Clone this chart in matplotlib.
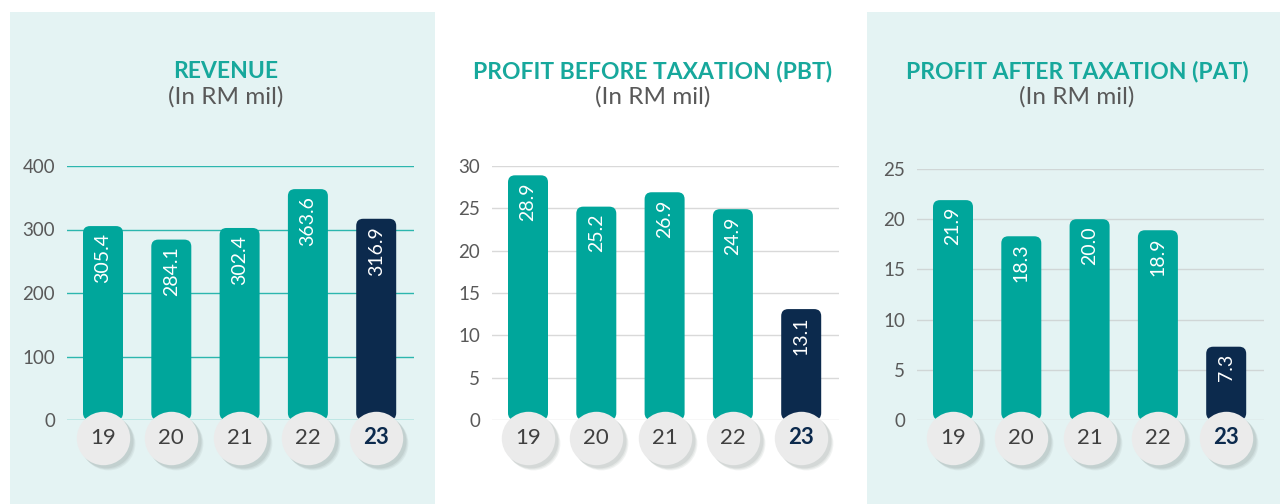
import numpy as np
import matplotlib
matplotlib.use("Agg")
import matplotlib.pyplot as plt
from matplotlib.patches import FancyBboxPatch, Rectangle
from matplotlib.transforms import offset_copy

plt.rcParams['font.family'] = ['Lato', 'DejaVu Sans']

# data
years = ['19', '20', '21', '22', '23']
revenue = [305.4, 284.1, 302.4, 363.6, 316.9]
pbt = [28.9, 25.2, 26.9, 24.9, 13.1]
pat = [21.9, 18.3, 20.0, 18.9, 7.3]

titles = ['REVENUE', 'PROFIT BEFORE TAXATION (PBT)', 'PROFIT AFTER TAXATION (PAT)']
subtitle = '(In RM mil)'
yticks_list = [[0, 100, 200, 300, 400], [0, 5, 10, 15, 20, 25, 30], [0, 5, 10, 15, 20, 25]]

TEAL = '#00a69b'
NAVY = '#0c2a4d'
PANEL_BG = '#e4f3f3'
TITLE_C = '#17a89c'
GREY_TXT = '#595959'

W, H = 1280, 504
fig = plt.figure(figsize=(W / 100, H / 100), dpi=100)
fig.patch.set_facecolor('white')

# panel backgrounds (pixel coords, y from top)
for x0, x1 in [(10, 435), (867, 1280)]:
    fig.patches.append(Rectangle((x0 / W, 0), (x1 - x0) / W, (H - 12) / H,
                                 transform=fig.transFigure, facecolor=PANEL_BG,
                                 edgecolor='none', zorder=-5))

panels = [
    dict(vals=revenue, first=103, top=166, ymax=400, grid='#2cb6ae', cx=226),
    dict(vals=pbt, first=528, top=166, ymax=30, grid='#d9d9d9', cx=653),
    dict(vals=pat, first=953, top=169, ymax=25, grid='#d0d6d6', cx=1077),
]

step = 68.3
zero_px = 420
for i, p in enumerate(panels):
    left = p['first'] - 0.52 * step
    width = 5.07 * step
    ax = fig.add_axes([left / W, (H - zero_px) / H, width / W, (zero_px - p['top']) / H])
    ax.set_zorder(2)
    ax.set_xlim(-0.52, 4.55)
    ax.set_ylim(0, p['ymax'])
    ax.patch.set_alpha(0)
    for s in ax.spines.values():
        s.set_visible(False)
    ax.set_yticks(yticks_list[i])
    ax.set_xticks([])
    ax.tick_params(axis='y', length=0, pad=9, labelsize=13.5, labelcolor=GREY_TXT)
    for t in yticks_list[i]:
        ax.axhline(t, color=p['grid'], lw=1, zorder=1)

    # aspect: data units per pixel
    ux = 5.07 / width
    uy = p['ymax'] / (zero_px - p['top'])
    bw = 40 * ux
    r = 7 * ux
    for j, v in enumerate(p['vals']):
        col = NAVY if j == len(p['vals']) - 1 else TEAL
        box = FancyBboxPatch((j - bw / 2, 0), bw, v,
                             boxstyle=f"round,pad=0,rounding_size={r}",
                             mutation_aspect=uy / ux, facecolor=col,
                             edgecolor='none', zorder=2)
        ax.add_patch(box)
        ax.text(j, v - 7 * uy, f"{v:.1f}", rotation=90, ha='center', va='top',
                color='white', fontsize=14, zorder=3)

    xs = np.arange(len(years))
    # circle shadows
    for k, a in [(5, 0.10), (4, 0.12), (3, 0.15)]:
        tr = offset_copy(ax.transData, fig=fig, x=k, y=-18 - k, units='dots')
        ax.scatter(xs, np.zeros(len(xs)), s=1500, color='#7f8c88', alpha=a,
                   transform=tr, clip_on=False, zorder=4, linewidths=0)
    tr = offset_copy(ax.transData, fig=fig, x=0, y=-18, units='dots')
    ax.scatter(xs, np.zeros(len(xs)), s=1480, color='#ebebeb', transform=tr,
               clip_on=False, zorder=5, linewidths=0)
    for j, yr in enumerate(years):
        last = j == len(years) - 1
        ax.text(j, 0, yr, transform=tr, ha='center', va='center',
                fontsize=16, color=NAVY if last else '#404040',
                fontweight='bold' if last else 'normal', zorder=6)

    fig.text(p['cx'] / W, 1 - 72 / H, titles[i], ha='center', va='center',
             fontsize=16.5, fontweight='bold', color=TITLE_C)
    fig.text(p['cx'] / W, 1 - 97 / H, subtitle, ha='center', va='center',
             fontsize=17.5, color=GREY_TXT)

fig.savefig('out.png', dpi=100)
